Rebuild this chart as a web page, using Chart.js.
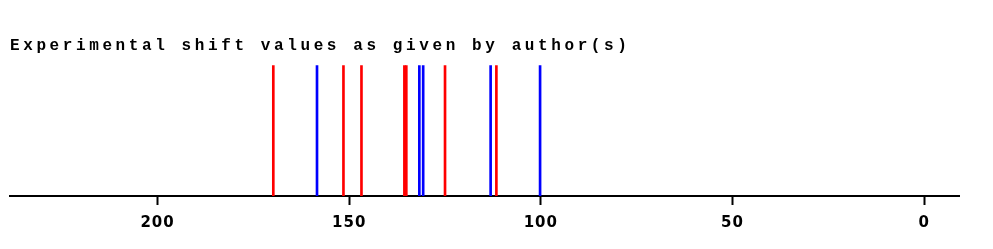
<!DOCTYPE html>
<html>
<head>
<meta charset="utf-8">
<script src="https://cdn.jsdelivr.net/npm/chart.js@4.4.1/dist/chart.umd.min.js"></script>
<style>
  html, body { margin: 0; padding: 0; background: #fff; }
  #wrap { width: 993px; height: 249px; }
</style>
</head>
<body>
<div id="wrap"><canvas id="shiftChart"></canvas></div>
<script>
// shift values (ppm)
const redShifts = [169.8, 151.5, 146.8, 135.6, 135.1, 125.0, 111.6];
const blueShifts = [158.4, 131.7, 130.7, 113.1, 100.2];
const tickValues = [200, 150, 100, 50, 0];
const axisMin = -9.1;
const axisMax = 238.5;
const titleText = 'Experimental shift values as given by author(s)';

// letter spacing: wide for the title, small for tick labels
const spacingPlugin = {
    id: 'spacing',
    beforeDraw(chart) { chart.ctx.letterSpacing = '3.6px'; },
    afterDatasetsDraw(chart) { chart.ctx.letterSpacing = '1px'; },
    afterDraw(chart) { chart.ctx.letterSpacing = '0px'; }
};

const ctx = document.getElementById('shiftChart');
const shiftChart = new Chart(ctx, {
    type: 'bar',
    data: {
        datasets: [{
            label: 'red',
            data: redShifts.map(v => ({ x: v, y: 1 })),
            backgroundColor: '#ff0000',
            barThickness: 2
        },
        {
            label: 'blue',
            data: blueShifts.map(v => ({ x: v, y: 1 })),
            backgroundColor: '#0000ff',
            barThickness: 2
        }]
    },
    plugins: [spacingPlugin],
    options: {
        responsive: true,
        maintainAspectRatio: false,
        animation: false,
        grouped: false,
        layout: {
            padding: { left: 10, right: 34, top: 0, bottom: 8 }
        },
        scales: {
            x: {
                type: 'linear',
                reverse: true,
                min: axisMin,
                max: axisMax,
                offset: false,
                afterBuildTicks: s => { s.ticks = tickValues.map(v => ({ value: v })); },
                grid: {
                    offset: false,
                    drawOnChartArea: false,
                    tickLength: 9,
                    tickWidth: 2,
                    tickColor: '#000'
                },
                border: { color: '#000', width: 2 },
                ticks: {
                    z: 1,
                    padding: 9,
                    color: '#000',
                    maxRotation: 0,
                    font: { family: '"DejaVu Sans"', size: 15, weight: 'bold' }
                }
            },
            y: {
                display: false,
                min: 0,
                max: 1
            }
        },
        plugins: {
            legend: { display: false },
            tooltip: { enabled: false },
            title: {
                display: true,
                position: 'top',
                align: 'start',
                text: titleText,
                color: '#000',
                padding: { top: 36, bottom: 10 },
                font: { family: '"Liberation Mono"', size: 16, weight: 'bold' }
            }
        }
    }
});
</script>
</body>
</html>
